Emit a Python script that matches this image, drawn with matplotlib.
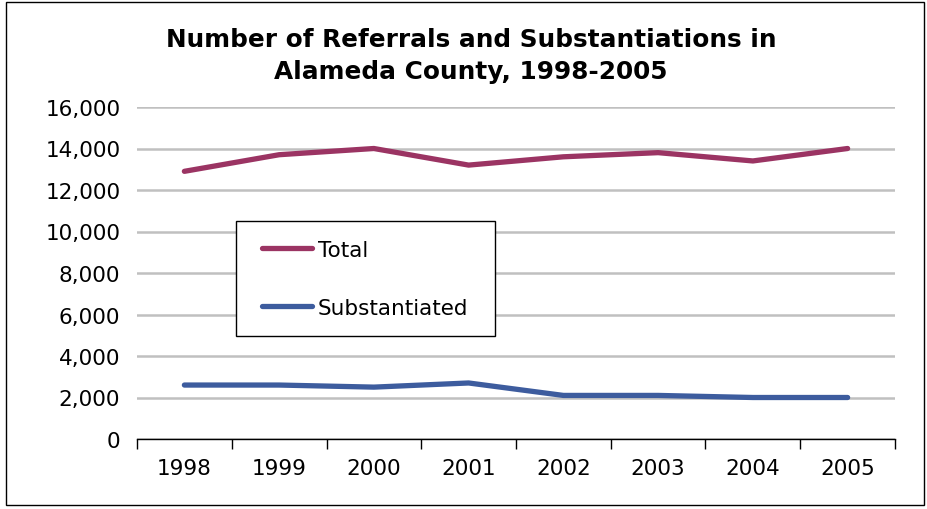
import matplotlib.pyplot as plt
import numpy as np
from matplotlib.patches import Rectangle

years = ['1998', '1999', '2000', '2001', '2002', '2003', '2004', '2005']
total = [12900, 13700, 14000, 13200, 13600, 13800, 13400, 14000]
substantiated = [2600, 2600, 2500, 2700, 2100, 2100, 2000, 2000]

plt.rcParams['font.family'] = 'DejaVu Sans'
fs = 15.5

fig = plt.figure(figsize=(9.28, 5.10), dpi=100)
ax = fig.add_axes([137/928, 1-440/510, (895-137)/928, (440-108)/510])

x = np.arange(len(years))
ax.plot(x, total, color='#9B3463', lw=3.8, solid_capstyle='round', label='Total')
ax.plot(x, substantiated, color='#3D5C9E', lw=3.8, solid_capstyle='round', label='Substantiated')

ax.set_xlim(-0.5, len(years) - 0.5)
ax.set_ylim(0, 16000)
ax.set_yticks(range(0, 16001, 2000))
ax.set_yticklabels([f'{v:,}' for v in range(0, 16001, 2000)], fontsize=fs)
ax.set_xticks(x)
ax.set_xticklabels(years, fontsize=fs)
ax.set_xticks(np.arange(-0.5, len(years)), minor=True)
ax.tick_params(axis='x', which='major', length=0, pad=14)
ax.tick_params(axis='x', which='minor', length=7, width=1, direction='out')
ax.tick_params(axis='y', length=0, pad=12)
ax.grid(axis='y', color='#C0C0C0', lw=1.8)
ax.set_axisbelow(True)
for s in ['left', 'right', 'top']:
    ax.spines[s].set_visible(False)
ax.spines['bottom'].set_linewidth(1)

fig.text(471/928, 1-56/510, 'Number of Referrals and Substantiations in\nAlameda County, 1998-2005',
         ha='center', va='center', fontsize=17.8, fontweight='bold', linespacing=1.4)

# legend box drawn separately so its size can match
box = Rectangle((236/928, 1-337/510), (495-236)/928, (337-222)/510,
                transform=fig.transFigure, facecolor='white',
                edgecolor='black', lw=1, zorder=4, clip_on=False)
ax.add_artist(box)
leg = ax.legend(loc='upper left', bbox_to_anchor=(262/928, 1-241/510),
                bbox_transform=fig.transFigure, fontsize=fs, frameon=False,
                borderaxespad=0, borderpad=0, handlelength=2.3,
                labelspacing=1.75, handletextpad=0.3)
leg.set_zorder(6)

fig.patches.append(Rectangle((6/928, 4/510), 918/928, 503/510, transform=fig.transFigure,
                             fill=False, edgecolor='black', lw=1))

fig.savefig('out.png', dpi=100)
